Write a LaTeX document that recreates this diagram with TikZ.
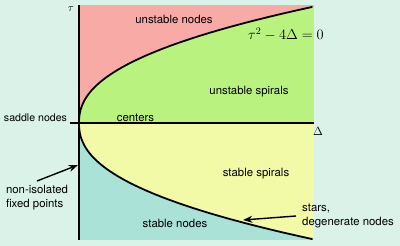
\documentclass[tikz,border=0pt]{standalone}
\usepackage{amsmath,amssymb}
\usepackage{fontspec}
\setsansfont{TeX Gyre Heros}
\usepackage{xcolor}
\usepackage{tikz}
\usetikzlibrary{arrows.meta}

\definecolor{bgmint}{HTML}{DAF2E8}
\definecolor{unstnode}{HTML}{F8AAA6}
\definecolor{unstspir}{HTML}{BAF27F}
\definecolor{stspir}{HTML}{F2FAA8}
\definecolor{stnode}{HTML}{AAE2D8}

\begin{document}
\begin{tikzpicture}[x=1pt,y=-1pt,>=Stealth,line join=round,
  lbl/.style={font=\sffamily\fontsize{11.4}{13.5}\selectfont,inner sep=0pt},
  axis/.style={line width=1.8pt},
  curve/.style={line width=1.8pt,line cap=round}]
  \fill[bgmint] (0,0) rectangle (400,246);
  \useasboundingbox (0,0) rectangle (400,246);
  \coordinate (O) at (79,123);
  \coordinate (TL) at (79,5);
  \coordinate (BL) at (79,240);
  \coordinate (TR) at (314,5);
  \coordinate (BR) at (314,240);
  \coordinate (R) at (314,123);
  \coordinate (L) at (70,123);
  % regions
  \fill[unstnode] (TL) rectangle (R);
  \fill[stnode] (O) rectangle (BR);
  \fill[unstspir] (O) -- plot[domain=0.001:116.4,samples=60] ({79+233*(\x/116)^2.3},{123-\x}) -- (R) -- cycle;
  \fill[stspir] (O) -- plot[domain=0.001:116.4,samples=60] ({79+233*(\x/116)^2.3},{123+\x}) -- (R) -- cycle;
  % axes and curve
  \draw[axis] (TL) -- (BL);
  \draw[axis] (L) -- (R);
  \draw[curve] plot[domain=-116:116,samples=90] ({79+233*(abs(\x)/116)^2.3},{123-\x});
  \coordinate (tipD) at (243,220);
  \coordinate (tipA) at (78,165);
  % labels
  \node[font=\fontsize{11}{13}\selectfont] (tau) at (71,9) {$\tau$};
  \node[font=\fontsize{13}{15}\selectfont] (Delta) at (318,131) {$\Delta$};
  \node[font=\fontsize{14}{16}\selectfont] (eq) at (286,34) {$\tau^2-4\Delta=0$};
  \node[lbl] (unode) at (174,19) {unstable nodes};
  \node[lbl] (uspir) at (249,92) {unstable spirals};
  \node[lbl,font=\sffamily\fontsize{10.6}{13}\selectfont] (saddle) at (35.5,117.5) {saddle nodes};
  \node[lbl] (cent) at (135.5,118) {centers};
  \node[lbl] (sspir) at (256,174) {stable spirals};
  \node[lbl] (snode) at (175,223) {stable nodes};
  \node[lbl,align=left,anchor=west,inner xsep=6pt] (stars) at (296,216) {stars,\\degenerate nodes};
  \node[lbl,align=left,anchor=north,inner ysep=4pt] (nonis) at (37,181) {non-isolated\\fixed points};
  \draw[->,line width=1.4pt] (stars.west) -- (tipD);
  \draw[->,line width=1.4pt] (nonis.north) -- (tipA);
\end{tikzpicture}
\end{document}
